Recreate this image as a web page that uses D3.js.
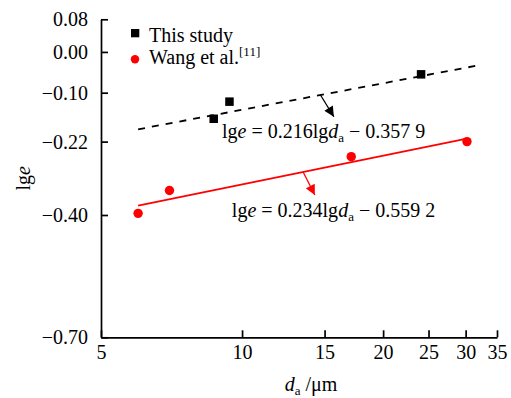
<!DOCTYPE html>
<html>
<head>
<meta charset="utf-8">
<script src="https://cdn.jsdelivr.net/npm/d3@7"></script>
<style>
  body { margin: 0; background: #fff; }
  svg { display: block; font-family: "Liberation Serif", "Times New Roman", serif; }
  .axis path, .axis line { stroke: #000; stroke-width: 1.7; }
</style>
</head>
<body>
<div class="js-chart"></div>
<script>
// data: d_a in um, lg e
var studyD = [8.7, 9.4, 24.1];
var studyLgE = [-0.164, -0.122, -0.055];
var wangD = [6.0, 7.0, 17.1, 30.2];
var wangLgE = [-0.396, -0.340, -0.257, -0.220];

// fitted lines, as printed on the chart
var studyFit = { k: 0.216, b: -0.3579, from: 6, to: 32.4 };
var wangFit = { k: 0.234, b: -0.5592, from: 6, to: 30 };

var xTicks = [5, 10, 15, 20, 25, 30, 35];
var yTicks = [0.08, 0.00, -0.10, -0.22, -0.40, -0.70];

var WIDTH = 511;
var HEIGHT = 398;
var RED = '#ff0000';
var FONT = '"Liberation Serif", "Times New Roman", serif';

var svg = d3.select('.js-chart')
  .append('svg')
  .attr('width', WIDTH)
  .attr('height', HEIGHT);

var x = d3.scaleLog().domain([5, 35]).range([101, 497]);
var y = d3.scaleLinear().domain([-0.70, 0.08]).range([337.3, 19.3]);

// axes, ticks point inwards
svg.append('g')
  .attr('class', 'axis')
  .attr('transform', `translate(0,${y(-0.70)})`)
  .call(d3.axisBottom(x)
    .tickValues(xTicks)
    .tickFormat(d3.format('d'))
    .tickSizeInner(-7)
    .tickSizeOuter(0)
    .tickPadding(8))
  .attr('font-family', FONT)
  .attr('font-size', 20);

svg.append('g')
  .attr('class', 'axis')
  .attr('transform', `translate(${x(5)},0)`)
  .call(d3.axisLeft(y)
    .tickValues(yTicks)
    .tickFormat(d3.format('.2f'))
    .tickSizeInner(-7)
    .tickSizeOuter(0)
    .tickPadding(13))
  .attr('font-family', FONT)
  .attr('font-size', 20);

// axis titles
var yTitle = svg.append('text')
  .attr('transform', `translate(30,${(y(0.08) + y(-0.70)) / 2})rotate(-90)`)
  .attr('text-anchor', 'middle')
  .style('font-size', '20px');
yTitle.append('tspan').text('lg');
yTitle.append('tspan').style('font-style', 'italic').text('e');

var xTitle = svg.append('text')
  .attr('x', 311)
  .attr('y', 391)
  .attr('text-anchor', 'middle')
  .style('font-size', '20px');
xTitle.append('tspan').style('font-style', 'italic').text('d');
xTitle.append('tspan').attr('dy', 4).style('font-size', '13px').text('a');
xTitle.append('tspan').attr('dy', -4).text(' /\u03bcm');

// fitted lines
function fitPoints(f) {
  return [f.from, f.to].map((d) => [d, f.k * Math.log10(d) + f.b]);
}
var line = d3.line()
  .x((d) => x(d[0]))
  .y((d) => y(d[1]));

svg.append('path')
  .datum(fitPoints(studyFit))
  .attr('d', line)
  .attr('fill', 'none')
  .attr('stroke', '#000')
  .attr('stroke-width', 1.8)
  .attr('stroke-dasharray', '7,7');

svg.append('path')
  .datum(fitPoints(wangFit))
  .attr('d', line)
  .attr('fill', 'none')
  .attr('stroke', RED)
  .attr('stroke-width', 1.8);

// markers
var SQ = 8.5;
svg.selectAll('.study')
  .data(d3.range(studyD.length))
  .enter()
  .append('rect')
  .attr('class', 'study')
  .attr('x', (i) => x(studyD[i]) - SQ / 2)
  .attr('y', (i) => y(studyLgE[i]) - SQ / 2)
  .attr('width', SQ)
  .attr('height', SQ)
  .attr('fill', '#000');

svg.selectAll('.wang')
  .data(d3.range(wangD.length))
  .enter()
  .append('circle')
  .attr('class', 'wang')
  .attr('cx', (i) => x(wangD[i]))
  .attr('cy', (i) => y(wangLgE[i]))
  .attr('r', 4.7)
  .attr('fill', RED);

// arrows pointing from the lines to their equations
var defs = svg.append('defs');
[['arrow-black', '#000'], ['arrow-red', RED]].forEach((a) => {
  defs.append('marker')
    .attr('id', a[0])
    .attr('viewBox', '0 0 10 10')
    .attr('refX', 10)
    .attr('refY', 5)
    .attr('markerUnits', 'userSpaceOnUse')
    .attr('markerWidth', 11)
    .attr('markerHeight', 10)
    .attr('orient', 'auto')
    .append('path')
    .attr('d', 'M0,0L10,5L0,10Z')
    .attr('fill', a[1]);
});

function arrow(f, d0, d1, v1, color, id) {
  svg.append('line')
    .attr('x1', x(d0))
    .attr('y1', y(f.k * Math.log10(d0) + f.b))
    .attr('x2', x(d1))
    .attr('y2', y(v1))
    .attr('stroke', color)
    .attr('stroke-width', 1.3)
    .attr('marker-end', `url(#${id})`);
}
arrow(studyFit, 14.7, 15.7, -0.159, '#000', 'arrow-black');
arrow(wangFit, 13.5, 14.3, -0.351, RED, 'arrow-red');

// equations
function equation(d, v, k, b) {
  var t = svg.append('text')
    .attr('x', x(d))
    .attr('y', y(v))
    .style('font-size', '20px');
  t.append('tspan').text('lg');
  t.append('tspan').style('font-style', 'italic').text('e');
  t.append('tspan').text(` = ${k}lg`);
  t.append('tspan').style('font-style', 'italic').text('d');
  t.append('tspan').attr('dy', 4).style('font-size', '13px').text('a');
  t.append('tspan').attr('dy', -4).text(` \u2212 ${b}`);
}
equation(9.06, -0.211, '0.216', '0.357 9');
equation(9.51, -0.404, '0.234', '0.559 2');

// legend
var legend = svg.append('g').attr('transform', 'translate(135,0)');
legend.append('rect')
  .attr('x', -4)
  .attr('y', 29)
  .attr('width', 8.3)
  .attr('height', 8.3)
  .attr('fill', '#000');
legend.append('circle')
  .attr('cx', 0)
  .attr('cy', 59.3)
  .attr('r', 4.2)
  .attr('fill', RED);
legend.append('text')
  .attr('x', 14)
  .attr('y', 41.5)
  .style('font-size', '20px')
  .text('This study');
var wangLabel = legend.append('text')
  .attr('x', 14)
  .attr('y', 64)
  .style('font-size', '20px');
wangLabel.append('tspan').text('Wang et al.');
wangLabel.append('tspan').attr('dy', -8).style('font-size', '13px').text('[11]');
</script>
</body>
</html>
